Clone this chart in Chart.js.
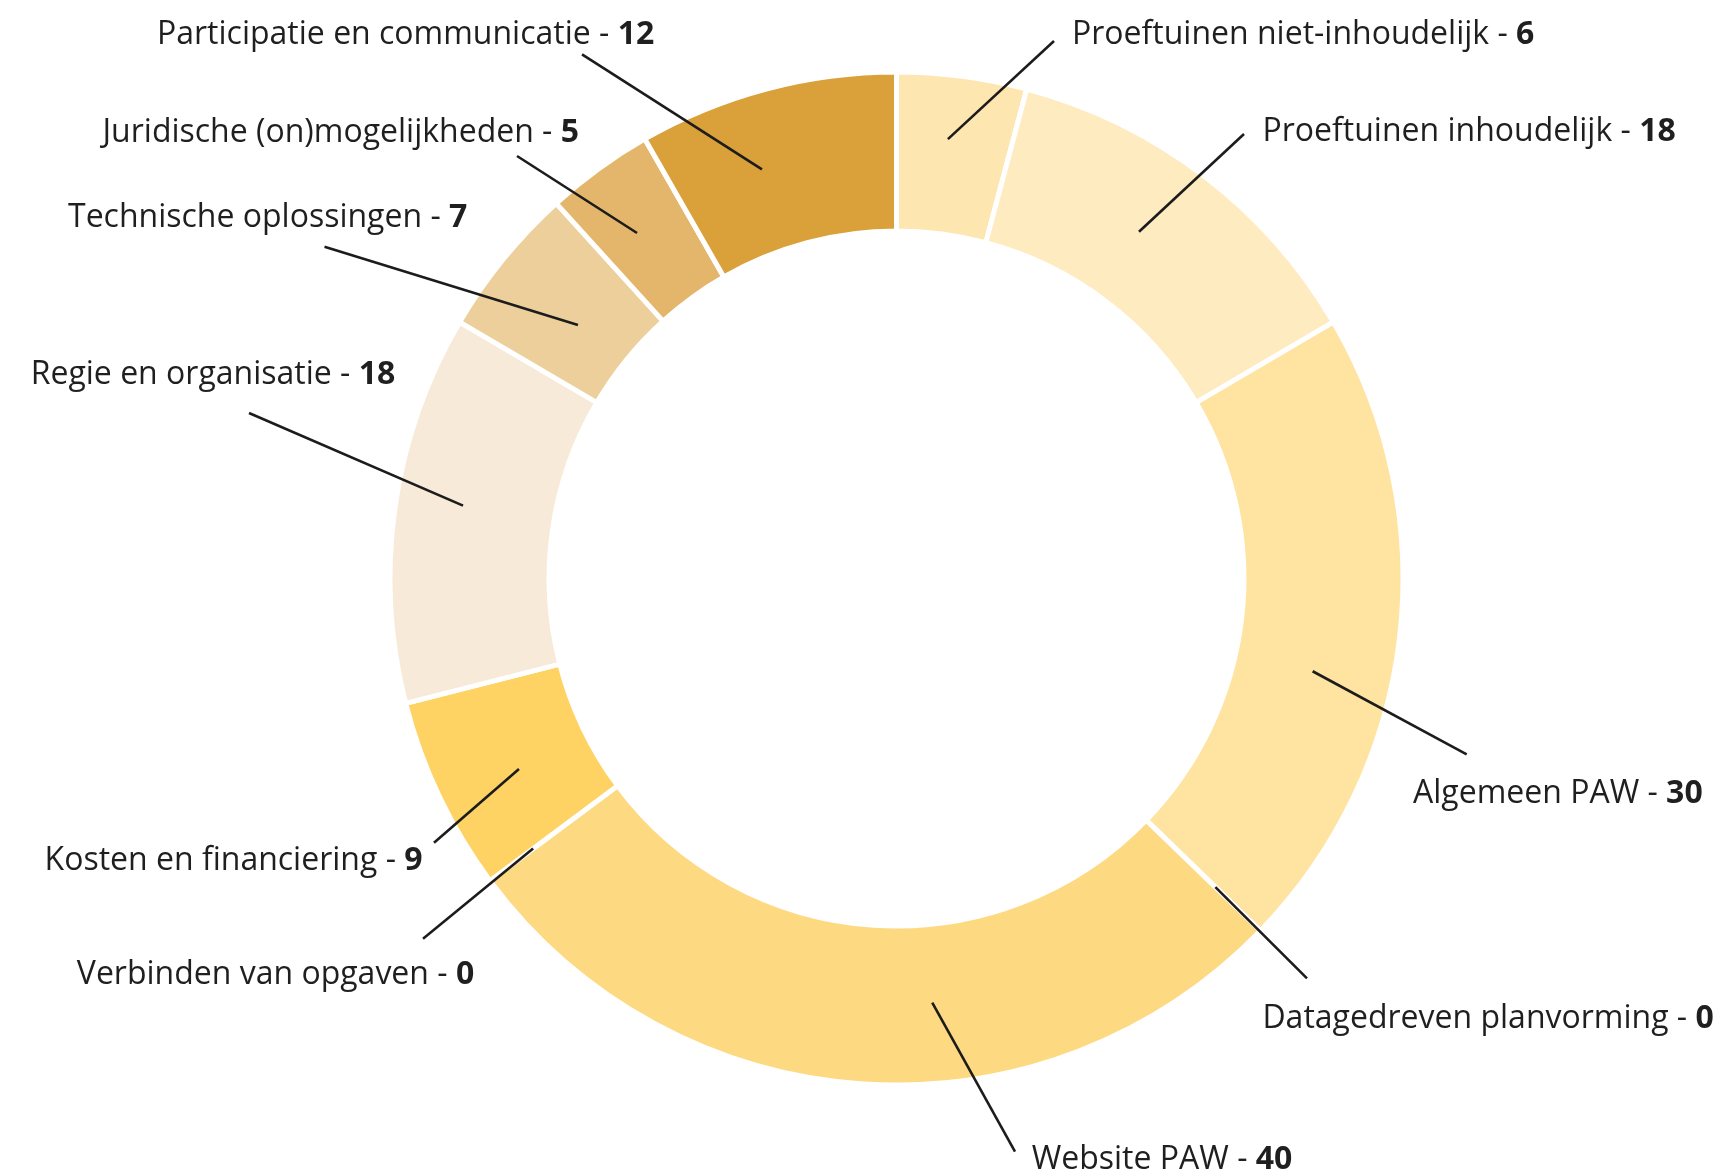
<!DOCTYPE html>
<html>
<head>
<meta charset="utf-8">
<script src="https://cdn.jsdelivr.net/npm/chart.js@4/dist/chart.umd.min.js"></script>
<style>
  html, body { margin: 0; padding: 0; background: #ffffff; }
  #wrap { width: 1718px; height: 1173px; position: relative; }
</style>
</head>
<body>
<div id="wrap"><canvas id="c" width="1718" height="1173"></canvas></div>
<script>
// ---- data ----
const categories = [
  'Proeftuinen niet-inhoudelijk',
  'Proeftuinen inhoudelijk',
  'Algemeen PAW',
  'Datagedreven planvorming',
  'Website PAW',
  'Verbinden van opgaven',
  'Kosten en financiering',
  'Regie en organisatie',
  'Technische oplossingen',
  'Juridische (on)mogelijkheden',
  'Participatie en communicatie'
];
const values = [6, 18, 30, 0, 40, 0, 9, 18, 7, 5, 12];

// ---- styles ----
const sliceColors = [
  '#FEE6B1', '#FFEBC0', '#FEE3A1', '#FEE09A', '#FDDA82', '#FDD570',
  '#FED364', '#F8EAD8', '#EDCF9B', '#E4B66B', '#DAA03A'
];

// ---- label layout (annotation placement, px offsets from chart centre) ----
// anchor: position along arc (t) and across ring (rf); leaderEnd: outer end of leader; textPos: left/baseline
const labelAnchorT  = [0.448, 0.449, 0.577, 0.5, 0.414, 0.5, 0.441, 0.533, 0.466, 0.427, 0.389];
const labelAnchorRf = [0.597, 0.476, 0.496, 0.606, 0.492, 0.662, 0.474, 0.579, 0.375, 0.532, 0.523];
const leaderEnd = [
  [157.5, -537.5], [347.5, -444.5], [570.2, 175.8], [410.5, 399.8], [118.5, 573.2],
  [-473.5, 360.2], [-462.5, 264.2], [-647.5, -165.5], [-572, -331.8], [-379.5, -422.5], [-314.5, -524.2]
];
const textPos = [
  [175.5, -535], [366, -438], [516.5, 224.2], [365.9, 449.5], [135.2, 590.5],
  [-819.7, 405.2], [-851.9, 291.5], [-865.8, -195], [-828.5, -351.5], [-794, -437], [-739.5, -535]
];

const FONT_SIZE = 32;
const FONT_FAMILY = '"Open Sans", "Noto Sans", sans-serif';

const leaderPlugin = {
  id: 'leaderLabels',
  afterDatasetsDraw(chart) {
    const ctx = chart.ctx;
    const meta = chart.getDatasetMeta(0);
    ctx.save();
    meta.data.forEach((arc, i) => {
      const p = arc.getProps(['x', 'y', 'startAngle', 'endAngle', 'innerRadius', 'outerRadius'], true);
      const ang = p.startAngle + (p.endAngle - p.startAngle) * labelAnchorT[i];
      const r = p.innerRadius + (p.outerRadius - p.innerRadius) * labelAnchorRf[i];
      const x1 = p.x + Math.cos(ang) * r;
      const y1 = p.y + Math.sin(ang) * r;
      const x2 = p.x + leaderEnd[i][0];
      const y2 = p.y + leaderEnd[i][1];
      ctx.beginPath();
      ctx.moveTo(x1, y1);
      ctx.lineTo(x2, y2);
      ctx.strokeStyle = '#1c1c1c';
      ctx.lineWidth = 2.6;
      ctx.lineCap = 'butt';
      ctx.stroke();

      const tx = p.x + textPos[i][0];
      const ty = p.y + textPos[i][1];
      const main = categories[i] + ' - ';
      ctx.textAlign = 'left';
      ctx.textBaseline = 'alphabetic';
      ctx.fillStyle = '#1f1f1f';
      ctx.font = '400 ' + FONT_SIZE + 'px ' + FONT_FAMILY;
      ctx.fillText(main, tx, ty);
      const w = ctx.measureText(main).width;
      ctx.font = '700 ' + FONT_SIZE + 'px ' + FONT_FAMILY;
      ctx.fillText(String(values[i]), tx + w, ty);
    });
    ctx.restore();
  }
};

function build() {
  new Chart(document.getElementById('c'), {
    type: 'doughnut',
    data: {
      labels: categories,
      datasets: [{
        data: values,
        backgroundColor: sliceColors,
        borderColor: '#ffffff',
        borderWidth: 5,
        hoverOffset: 0
      }]
    },
    options: {
      responsive: false,
      animation: false,
      radius: 506.5,
      cutout: '68.6%',
      layout: { padding: { left: 75, right: 0, top: 0, bottom: 16 } },
      plugins: {
        legend: { display: false },
        tooltip: { enabled: false }
      }
    },
    plugins: [leaderPlugin]
  });
}

Promise.all([
  document.fonts.load('400 32px "Open Sans"'),
  document.fonts.load('700 32px "Open Sans"')
]).then(build, build);
</script>
</body>
</html>
